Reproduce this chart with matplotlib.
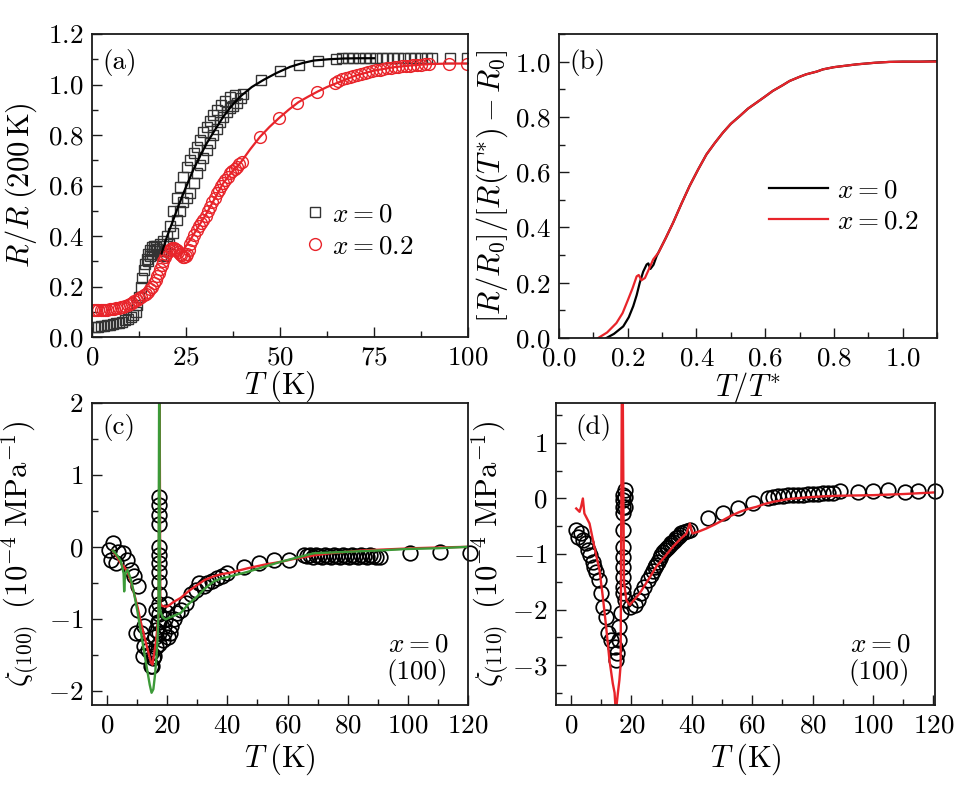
import matplotlib
matplotlib.use("Agg")
import matplotlib.pyplot as plt
from matplotlib.ticker import MultipleLocator
from matplotlib.lines import Line2D

plt.rcParams.update({
    "font.family": "serif",
    "font.serif": ["cmr10"],
    "mathtext.fontset": "cm",
    "axes.formatter.use_mathtext": True,
    "axes.unicode_minus": True,
})

# ---------------- Panel (a) data ----------------
sq_T = [0.8, 1.6, 2.4, 3.2, 4.0, 4.8, 5.6, 6.4, 7.2, 8.0, 8.8, 9.6, 10.4, 11.0, 11.6, 12.1,
        12.5, 12.9, 13.3, 13.7, 14.1, 14.5, 14.9, 15.4, 15.9, 16.4, 16.9, 17.4, 17.9, 18.4,
        18.9, 15.0, 15.5, 16.0, 16.5,
        17.0, 18.0, 19.0, 20.0, 20.8, 21.6, 22.5, 23.4, 24.3, 25.2, 26.1, 27.0, 27.8, 28.7,
        29.6, 30.5, 31.4, 32.3, 33.2, 34.4, 35.5, 36.7, 38.0,
        19.5, 20.5, 21.5, 22.5, 23.4, 24.3, 25.2, 26.1, 27.0, 27.8, 28.7, 29.6, 30.5, 31.4,
        32.3, 33.2, 34.0, 34.9, 35.8, 36.7, 37.6, 38.5, 39.5, 40.2,
        45.0, 50.0, 55.0, 60.0, 65.0, 66.5, 68.0, 69.5, 71.0, 72.5, 74.0, 75.5, 77.0, 78.5,
        80.0, 81.5, 83.0, 84.5, 86.0, 87.5, 89.0, 90.5, 95.3, 99.7]
sq_R = [0.040, 0.041, 0.043, 0.045, 0.047, 0.049, 0.051, 0.054, 0.057, 0.061, 0.066, 0.072,
        0.079, 0.088, 0.100, 0.125, 0.160, 0.200, 0.235, 0.265, 0.290, 0.310, 0.330, 0.345,
        0.355, 0.360, 0.357, 0.350, 0.340, 0.325, 0.320, 0.300, 0.320, 0.330, 0.340,
        0.360, 0.370, 0.380, 0.400, 0.440, 0.500, 0.550, 0.595, 0.635, 0.674, 0.700, 0.730,
        0.754, 0.780, 0.810, 0.833, 0.855, 0.878, 0.899, 0.918, 0.935, 0.952, 0.960,
        0.340, 0.370, 0.410, 0.463, 0.500, 0.535, 0.550, 0.569, 0.610, 0.648, 0.680, 0.710,
        0.740, 0.770, 0.800, 0.825, 0.850, 0.872, 0.890, 0.905, 0.915, 0.925, 0.945, 0.962,
        1.018, 1.055, 1.078, 1.095, 1.102, 1.103, 1.104, 1.104, 1.104, 1.104, 1.104, 1.104,
        1.104, 1.104, 1.104, 1.104, 1.104, 1.104, 1.104, 1.104, 1.104, 1.104, 1.104, 1.104]

ci_T = [0.5, 1.1, 1.7, 2.3, 2.9, 3.5, 4.1, 4.7, 5.3, 5.9, 6.5, 7.1, 7.7, 8.3, 8.9, 9.5, 10.1,
        10.7, 11.3, 11.9, 12.5, 13.1, 13.7, 14.3, 14.9, 15.4, 15.9, 16.4, 16.9, 17.3, 17.7,
        18.1, 18.5, 18.9, 19.3, 19.7, 20.1, 20.5, 20.9, 21.3, 21.7, 22.1, 22.5, 22.9, 23.3,
        23.7, 24.1, 24.5, 24.9, 25.3, 25.7, 26.1, 26.6, 27.2, 27.8, 28.4, 29.0, 29.6, 30.2,
        30.8, 31.4, 32.0, 32.6, 33.2, 33.8, 34.4, 34.9, 35.5, 36.1, 36.7, 37.3, 37.9, 38.5,
        39.1, 39.8, 44.7, 49.8, 54.6, 59.8, 64.7, 65.5, 66.5, 67.5, 68.5, 69.5, 70.5, 71.5,
        72.5, 73.5, 74.5, 75.5, 76.5, 77.5, 78.5, 79.5, 80.5, 81.5, 82.5, 83.5, 84.5, 85.5,
        86.5, 87.5, 88.5, 89.5, 94.9, 99.7]
ci_R = [0.105, 0.106, 0.106, 0.107, 0.107, 0.108, 0.108, 0.109, 0.110, 0.111, 0.113, 0.115,
        0.117, 0.120, 0.123, 0.127, 0.131, 0.136, 0.141, 0.147, 0.153, 0.160, 0.166, 0.172,
        0.180, 0.190, 0.200, 0.212, 0.225, 0.240, 0.255, 0.270, 0.285, 0.300, 0.315, 0.328,
        0.338, 0.345, 0.350, 0.352, 0.351, 0.348, 0.343, 0.337, 0.330, 0.323, 0.318, 0.318,
        0.322, 0.330, 0.345, 0.370, 0.385, 0.405, 0.424, 0.440, 0.452, 0.463, 0.480, 0.500,
        0.516, 0.535, 0.552, 0.569, 0.583, 0.597, 0.609, 0.622, 0.635, 0.648, 0.657, 0.666,
        0.675, 0.685, 0.694, 0.793, 0.866, 0.928, 0.972, 1.005, 1.012, 1.020, 1.025, 1.030,
        1.035, 1.039, 1.043, 1.046, 1.050, 1.053, 1.056, 1.059, 1.062, 1.064, 1.066, 1.068,
        1.070, 1.072, 1.074, 1.075, 1.077, 1.078, 1.079, 1.080, 1.081, 1.083, 1.083]

fit0_T = [18.5, 20.0, 21.6, 23.0, 24.3, 25.6, 26.9, 28.7, 30.5, 32.7, 34.9, 37.1, 39.4, 42.5,
          45.6, 49.0, 52.7, 56.0, 59.0, 63.0, 67.0, 71.0, 75.0]
fit0_R = [0.331, 0.400, 0.463, 0.520, 0.569, 0.615, 0.661, 0.715, 0.767, 0.820, 0.872, 0.915,
          0.952, 0.990, 1.018, 1.045, 1.070, 1.085, 1.095, 1.100, 1.103, 1.104, 1.104]
fit2_T = [23.4, 24.5, 26.1, 28.3, 30.5, 32.7, 34.9, 37.1, 39.4, 42.0, 44.7, 47.2, 49.8, 52.3,
          54.9, 57.5, 60.0, 62.5, 65.0, 70.0, 75.0, 80.0, 85.0, 90.0, 95.0, 100.0]
fit2_R = [0.330, 0.350, 0.384, 0.437, 0.490, 0.550, 0.609, 0.652, 0.688, 0.742, 0.793, 0.832,
          0.868, 0.900, 0.930, 0.952, 0.972, 0.990, 1.005, 1.035, 1.055, 1.068, 1.076, 1.081,
          1.083, 1.083]

# ---------------- Panel (b) data ----------------
b0_t = [0.138, 0.160, 0.187, 0.203, 0.216, 0.226, 0.235, 0.245, 0.255, 0.260, 0.266, 0.275,
        0.284, 0.310, 0.332, 0.356, 0.380, 0.405, 0.429, 0.453, 0.477, 0.500, 0.526, 0.550,
        0.574, 0.600, 0.622, 0.650, 0.671, 0.700, 0.719, 0.750, 0.768, 0.800, 0.865, 0.920,
        0.961, 1.000, 1.050, 1.120]
b0_y = [0.000, 0.015, 0.042, 0.075, 0.115, 0.155, 0.200, 0.240, 0.266, 0.270, 0.250, 0.265,
        0.296, 0.360, 0.417, 0.485, 0.550, 0.610, 0.664, 0.705, 0.743, 0.775, 0.803, 0.830,
        0.851, 0.874, 0.894, 0.914, 0.930, 0.945, 0.954, 0.964, 0.972, 0.980, 0.990, 0.996,
        0.999, 1.000, 1.000, 1.002]
b2_t = [0.114, 0.140, 0.167, 0.185, 0.201, 0.214, 0.226, 0.232, 0.240, 0.250, 0.262, 0.274,
        0.290, 0.310, 0.332, 0.356, 0.380, 0.405, 0.429, 0.453, 0.477, 0.500, 0.526, 0.550,
        0.574, 0.600, 0.622, 0.650, 0.671, 0.700, 0.719, 0.750, 0.768, 0.800, 0.865, 0.920,
        0.961, 1.000, 1.050, 1.100]
b2_y = [0.000, 0.020, 0.054, 0.090, 0.139, 0.180, 0.223, 0.228, 0.209, 0.217, 0.250, 0.284,
        0.310, 0.360, 0.417, 0.485, 0.550, 0.610, 0.664, 0.705, 0.743, 0.775, 0.803, 0.830,
        0.851, 0.874, 0.894, 0.914, 0.930, 0.945, 0.954, 0.964, 0.972, 0.980, 0.990, 0.996,
        0.999, 1.000, 1.000, 1.000]

# ---------------- Panel (c) data ----------------
c_T = [0.8, 1.3, 1.9, 3.0, 3.5, 5.2, 6.8, 7.9, 9.0, 10.2, 10.2, 9.6, 11.3, 12.4, 12.4, 11.8,
       13.5, 14.6, 14.6, 15.1, 15.7, 16.2, 15.8, 16.3, 16.8, 16.2, 15.4,
       17.3, 17.3, 17.3, 17.3, 17.3, 17.3, 17.3, 17.3, 17.3, 17.3, 17.3, 17.3, 17.3, 17.3, 17.3,
       18.5, 18.8, 19.0, 19.3, 19.5, 19.8, 20.2, 20.8, 21.2, 22.3, 23.4, 24.5, 26.2, 27.8,
       29.5, 30.6, 32.2, 33.3, 35.0, 36.7, 38.3, 40.0, 45.5, 50.5, 55.4, 60.4, 65.4, 66.5,
       67.5, 68.5, 69.5, 70.5, 71.5, 72.5, 73.5, 74.5, 75.5, 76.5, 77.5, 78.5, 79.5, 80.5,
       81.5, 82.5, 83.5, 84.5, 85.5, 86.5, 87.5, 88.5, 89.5, 90.7, 100.7, 110.6, 120.6]
c_v = [-0.05, -0.18, 0.05, -0.23, -0.07, -0.09, -0.18, -0.32, -0.41, -0.55, -0.88, -1.20,
       -1.20, -1.10, -1.38, -1.52, -1.43, -1.47, -1.66, -1.66, -1.52, -0.88, -1.25, -1.15,
       -1.05, -1.40, -1.55,
       0.69, 0.58, 0.44, 0.32, 0.00, -0.12, -0.23, -0.35, -0.49, -0.65, -0.79, -0.93, -1.05,
       -1.20, -1.35,
       -1.30, -1.20, -1.10, -1.00, -0.90, -0.80, -1.25, -1.20, -1.10, -1.00, -0.92, -0.88,
       -0.78, -0.65, -0.60, -0.51, -0.55, -0.51, -0.48, -0.44, -0.41, -0.37, -0.28, -0.23,
       -0.18, -0.18, -0.12, -0.13, -0.12, -0.14, -0.12, -0.13, -0.14, -0.12, -0.13, -0.14,
       -0.12, -0.13, -0.14, -0.12, -0.13, -0.14, -0.12, -0.13, -0.14, -0.12, -0.13, -0.14,
       -0.12, -0.13, -0.14, -0.14, -0.09, -0.07, -0.09]

cr_T = [1.9, 3.0, 4.6, 5.7, 6.8, 7.9, 9.0, 10.2, 11.3, 12.4, 13.5, 14.6, 15.1, 15.6, 16.2,
        16.8, 17.2, 17.45, 17.7, 18.2, 19.0, 20.1, 22.0, 24.5, 27.0, 30.0, 32.5, 35.5, 38.0,
        41.0, 46.6, 52.1, 57.6, 63.1, 68.7, 74.0, 79.7, 85.0, 90.7, 101.8, 110.0, 120.0]
cr_v = [-0.05, -0.12, -0.23, -0.28, -0.35, -0.48, -0.65, -0.85, -1.06, -1.25, -1.43, -1.61,
        -1.64, -1.50, -1.34, -1.10, -0.90, 2.60, -0.78, -0.82, -0.83, -0.83, -0.77, -0.71,
        -0.62, -0.53, -0.46, -0.41, -0.38, -0.36, -0.30, -0.25, -0.21, -0.16, -0.12, -0.09,
        -0.07, -0.05, -0.04, -0.02, -0.01, 0.00]
cg_T = [1.9, 3.0, 4.6, 5.5, 5.7, 5.9, 6.1, 6.8, 7.9, 9.0, 10.2, 11.3, 12.4, 13.5, 14.2, 14.8,
        15.4, 15.9, 16.4, 16.8, 17.1, 17.35, 17.6, 17.9, 18.5, 19.5, 21.0, 24.5, 27.0, 30.0,
        32.5, 35.5, 38.0, 41.0, 46.6, 52.1, 57.6, 63.1, 68.7, 74.0, 79.7, 90.7, 100.0, 110.0,
        120.0]
cg_v = [-0.05, -0.10, -0.20, -0.37, -0.62, -0.45, -0.37, -0.32, -0.45, -0.65, -0.92, -1.20,
        -1.48, -1.75, -1.92, -2.03, -1.98, -1.80, -1.55, -1.29, -0.90, 2.60, -0.85, -0.92,
        -0.98, -1.01, -0.98, -0.92, -0.80, -0.69, -0.58, -0.48, -0.44, -0.41, -0.35, -0.28,
        -0.21, -0.15, -0.09, -0.08, -0.07, -0.05, -0.03, -0.02, 0.00]

# ---------------- Panel (d) data ----------------
d_T = [1.7, 2.2, 3.3, 3.9, 5.0, 5.5, 6.1, 7.2, 7.7, 8.3, 9.4, 10.0, 10.5, 11.6, 12.2, 13.3,
       14.4, 14.9, 15.2, 15.8, 16.0, 16.6,
       17.1, 17.1, 17.1, 17.1, 17.1, 17.1, 17.1, 17.1, 17.1, 17.1, 17.1, 17.7, 17.7, 17.7,
       18.0, 19.4, 21.0, 22.1, 23.2, 24.3, 25.4, 26.5, 27.1, 27.7, 28.2, 28.8, 29.4, 29.9,
       30.5, 31.0, 31.6, 32.1, 32.7, 33.2, 33.8, 34.3, 34.9, 35.4, 36.0, 36.5, 37.5, 38.5,
       39.3, 45.4, 50.3, 55.3, 60.3, 65.3, 66.9, 68.5, 70.2, 71.9, 73.6, 75.2, 76.9, 78.5,
       80.2, 81.8, 83.5, 85.1, 86.8, 89.0, 95.1, 100.1, 105.1, 110.6, 115.0, 120.6]
d_v = [-0.57, -0.69, -0.63, -0.75, -0.81, -0.93, -1.02, -1.14, -1.23, -1.32, -1.47, -1.71,
       -1.95, -2.13, -2.43, -2.55, -2.67, -2.91, -2.79, -2.55, -2.31, -2.07,
       0.06, -0.03, -0.15, -0.27, -0.57, -0.87, -1.05, -1.23, -1.41, -1.59, -1.71, 0.15, 0.03,
       -0.15,
       -1.83, -1.95, -1.92, -1.83, -1.71, -1.59, -1.47, -1.38, -1.30, -1.23, -1.19, -1.14,
       -1.08, -1.02, -0.97, -0.93, -0.90, -0.87, -0.84, -0.81, -0.78, -0.75, -0.72, -0.69,
       -0.66, -0.63, -0.60, -0.58, -0.57, -0.36, -0.26, -0.18, -0.09, 0.00, 0.03, 0.04, 0.05,
       0.055, 0.06, 0.065, 0.07, 0.075, 0.08, 0.085, 0.09, 0.095, 0.10, 0.13, 0.12, 0.13,
       0.15, 0.12, 0.13, 0.13]
dr_T = [1.7, 2.8, 3.3, 3.9, 4.4, 6.1, 7.7, 9.4, 10.5, 11.6, 12.7, 13.8, 14.4, 14.8, 15.5,
        16.0, 16.4, 16.8, 17.1, 17.5, 18.3, 19.4, 22.7, 25.5, 28.2, 31.0, 33.7, 36.0, 38.2,
        39.3, 40.2, 42.5, 44.8, 47.5, 50.3, 53.0, 55.9, 58.5, 61.4, 64.0, 66.9, 72.0, 78.0,
        84.0, 89.0, 95.0, 100.1, 110.0, 120.6]
dr_v = [-0.18, -0.24, -0.15, 0.00, -0.27, -0.45, -0.87, -1.29, -1.77, -2.31, -2.91, -3.33,
        -3.50, -3.85, -3.50, -3.27, -3.00, 2.00, 2.00, -1.50, -1.83, -1.92, -1.71, -1.47,
        -1.23, -1.05, -0.87, -0.74, -0.63, -0.45, -0.63, -0.59, -0.54, -0.47, -0.39, -0.31,
        -0.24, -0.19, -0.15, -0.10, -0.06, -0.01, 0.02, 0.04, 0.05, 0.055, 0.06, 0.08, 0.11]

# ---------------- Figure ----------------
W, H = 966, 786
fig = plt.figure(figsize=(W / 100, H / 100), dpi=100)


def add_ax(l, r, t, b):
    return fig.add_axes([l / W, 1 - b / H, (r - l) / W, (b - t) / H])


axa = add_ax(92, 468, 34, 337)
axb = add_ax(559, 937, 34, 338)
axc = add_ax(92, 468, 403, 705)
axd = add_ax(556, 935, 403, 705)

TICK_FS = 19.5
LAB_FS = 22
RED = "#e8242a"
GREEN = "#3c9a38"

for ax in (axa, axb, axc, axd):
    for s in ax.spines.values():
        s.set_linewidth(1.3)
        s.set_color("#1a1a1a")
    ax.tick_params(which="both", direction="in", top=False, right=False,
                   labelsize=TICK_FS, width=1.0, color="#1a1a1a")
    ax.tick_params(which="major", length=7, pad=6)
    ax.tick_params(which="minor", length=4)

# (a)
axa.plot(sq_T, sq_R, ls="none", marker="s", ms=6.5, mfc="none", mec="#333333", mew=1.0)
axa.plot(ci_T, ci_R, ls="none", marker="o", ms=8.5, mfc="none", mec=RED, mew=1.0)
axa.plot(fit0_T, fit0_R, color="black", lw=1.6)
axa.plot(fit2_T, fit2_R, color=RED, lw=1.6)
axa.set_xlim(0, 100)
axa.set_ylim(0, 1.2)
axa.xaxis.set_major_locator(MultipleLocator(25))
axa.xaxis.set_minor_locator(MultipleLocator(12.5))
axa.yaxis.set_major_locator(MultipleLocator(0.2))
axa.yaxis.set_minor_locator(MultipleLocator(0.1))
axa.set_xlabel(r"$T\;(\mathrm{K})$", fontsize=LAB_FS)
axa.set_ylabel(r"$R/R\;(200\,\mathrm{K})$", fontsize=LAB_FS)
axa.xaxis.set_label_coords(0.5, -0.105)
axa.yaxis.set_label_coords(-0.14, 0.5)
axa.text(0.028, 0.905, "(a)", transform=axa.transAxes, fontsize=TICK_FS, va="center")
ha = [Line2D([], [], ls="none", marker="s", ms=6.5, mfc="none", mec="#333333", mew=1.0),
      Line2D([], [], ls="none", marker="o", ms=8.5, mfc="none", mec=RED, mew=1.0)]
axa.legend(ha, [r"$x=0$", r"$x=0.2$"], loc="center left", bbox_to_anchor=(0.52, 0.35),
           frameon=False, fontsize=TICK_FS, handlelength=0.6, handletextpad=0.35,
           labelspacing=0.3, borderpad=0.2)

# (b)
axb.plot(b0_t, b0_y, color="black", lw=1.6)
axb.plot(b2_t, b2_y, color=RED, lw=1.6)
axb.set_xlim(0, 1.1)
axb.set_ylim(0, 1.1)
axb.xaxis.set_major_locator(MultipleLocator(0.2))
axb.xaxis.set_minor_locator(MultipleLocator(0.1))
axb.yaxis.set_major_locator(MultipleLocator(0.2))
axb.yaxis.set_minor_locator(MultipleLocator(0.1))
axb.set_xlabel(r"$T/T^{*}$", fontsize=LAB_FS)
axb.set_ylabel(r"$[R/R_0]/[R(T^{*})-R_0]$", fontsize=LAB_FS)
axb.xaxis.set_label_coords(0.5, -0.105)
axb.yaxis.set_label_coords(-0.13, 0.5)
axb.text(0.028, 0.905, "(b)", transform=axb.transAxes, fontsize=TICK_FS, va="center")
hb = [Line2D([], [], color="black", lw=1.6), Line2D([], [], color=RED, lw=1.6)]
axb.legend(hb, [r"$x=0$", r"$x=0.2$"], loc="center left", bbox_to_anchor=(0.505, 0.435),
           frameon=False, fontsize=TICK_FS, handlelength=2.2, handletextpad=0.3,
           labelspacing=0.25, borderpad=0.2)

# (c)
axc.plot(c_T, c_v, ls="none", marker="o", ms=10.5, mfc="none", mec="black", mew=1.25,
         clip_on=False)
axc.plot(cr_T, cr_v, color=RED, lw=1.7)
axc.plot(cg_T, cg_v, color=GREEN, lw=1.7)
axc.set_xlim(-5, 120)
axc.set_ylim(-2.2, 2.0)
axc.xaxis.set_major_locator(MultipleLocator(20))
axc.xaxis.set_minor_locator(MultipleLocator(10))
axc.yaxis.set_major_locator(MultipleLocator(1))
axc.yaxis.set_minor_locator(MultipleLocator(0.5))
axc.set_xlabel(r"$T\;(\mathrm{K})$", fontsize=LAB_FS)
axc.set_ylabel(r"$\zeta_{(100)}\;\;(10^{-4}\ \mathrm{MPa}^{-1})$", fontsize=LAB_FS)
axc.xaxis.set_label_coords(0.5, -0.12)
axc.yaxis.set_label_coords(-0.135, 0.5)
axc.text(0.028, 0.92, "(c)", transform=axc.transAxes, fontsize=TICK_FS, va="center")
axc.text(0.947, 0.199, r"$x=0$", transform=axc.transAxes, fontsize=TICK_FS,
         ha="right", va="center")
axc.text(0.947, 0.106, "(100)", transform=axc.transAxes, fontsize=TICK_FS,
         ha="right", va="center")

# (d)
axd.plot(d_T, d_v, ls="none", marker="o", ms=10.5, mfc="none", mec="black", mew=1.25,
         clip_on=False)
axd.plot(dr_T, dr_v, color=RED, lw=1.7)
axd.set_xlim(-5, 120.5)
axd.set_ylim(-3.72, 1.72)
axd.xaxis.set_major_locator(MultipleLocator(20))
axd.xaxis.set_minor_locator(MultipleLocator(10))
axd.yaxis.set_major_locator(MultipleLocator(1))
axd.yaxis.set_minor_locator(MultipleLocator(0.5))
axd.set_xlabel(r"$T\;(\mathrm{K})$", fontsize=LAB_FS)
axd.set_ylabel(r"$\zeta_{(110)}\;\;(10^{-4}\ \mathrm{MPa}^{-1})$", fontsize=LAB_FS)
axd.xaxis.set_label_coords(0.5, -0.12)
axd.yaxis.set_label_coords(-0.118, 0.5)
axd.text(0.05, 0.92, "(d)", transform=axd.transAxes, fontsize=TICK_FS, va="center")
axd.text(0.934, 0.199, r"$x=0$", transform=axd.transAxes, fontsize=TICK_FS,
         ha="right", va="center")
axd.text(0.934, 0.106, "(100)", transform=axd.transAxes, fontsize=TICK_FS,
         ha="right", va="center")

fig.savefig("out.png", dpi=100)
